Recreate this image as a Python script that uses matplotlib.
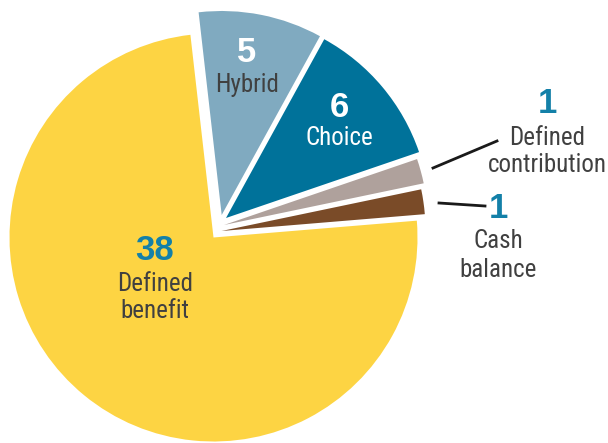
import matplotlib
matplotlib.use("Agg")
import matplotlib.pyplot as plt
from matplotlib import font_manager

# Data
categories = ["Defined benefit", "Cash balance", "Defined contribution", "Choice", "Hybrid"]
counts = [38, 1, 1, 6, 5]

# Colors per slice
colors = ["#FDD443", "#7A4B28", "#AFA19C", "#00729A", "#80AAC0"]
num_blue = "#1380A8"
text_grey = "#404040"

# pick a narrow font if one is around
fonts = font_manager.fontManager.ttflist
names = {f.name for f in fonts}
label_font, label_stretch, label_size = "DejaVu Sans", "normal", 15
if "Liberation Sans Narrow" in names:
    label_font, label_stretch, label_size = "Liberation Sans Narrow", "normal", 19
elif "Roboto Condensed" in names:
    label_font, label_stretch, label_size = "Roboto Condensed", "normal", 18
elif any(f.name == "DejaVu Sans" and "condensed" in str(f.stretch) for f in fonts):
    label_font, label_stretch, label_size = "DejaVu Sans", "condensed", 16.5

W, H = 608, 443
fig = plt.figure(figsize=(W / 100, H / 100), dpi=100)
ax = fig.add_axes([0, 0, 1, 1])

# pie drawn in pixel-like coordinates (y up)
cx, cy = 213.5, H - 237.5
wedges, _ = ax.pie(counts, colors=colors, startangle=96.5, counterclock=True,
                   radius=204, center=(cx, cy), wedgeprops=dict(linewidth=0))

# hand-pulled pieces: offset of each slice from the yellow one (px)
shifts = [(0, 0), (8, 6.5), (10.5, 12.5), (12.5, 19.5), (8.2, 22.5)]
for w, (dx, dy) in zip(wedges, shifts):
    w.set_center((cx + dx, cy + dy))

ax.set_xlim(0, W)
ax.set_ylim(0, H)
ax.set_aspect("equal")
ax.axis("off")


def num(x, y, s, color):
    ax.text(x, H - y, s, ha="center", va="baseline", fontsize=25, color=color,
            fontweight="bold", family="Liberation Sans")


def lab(x, y, s, color=text_grey):
    ax.text(x, H - y, s, ha="center", va="baseline", fontsize=label_size, color=color,
            family=label_font, fontstretch=label_stretch)


# Defined benefit
num(155, 260, str(counts[0]), num_blue)
lab(155, 291, "Defined")
lab(155, 318, "benefit")

# Hybrid
num(247, 62, str(counts[4]), "white")
lab(247, 92, "Hybrid")

# Choice
num(339, 117, str(counts[3]), "white")
lab(339, 145, "Choice", "white")

# Defined contribution
num(547, 113, str(counts[2]), num_blue)
lab(547, 145, "Defined")
lab(547, 172, "contribution")
ax.plot([433, 497], [H - 168, H - 141], color="#1a1a1a", lw=2)

# Cash balance
num(498, 218, str(counts[1]), num_blue)
lab(498, 248, "Cash")
lab(498, 277, "balance")
ax.plot([439, 485], [H - 203, H - 206], color="#1a1a1a", lw=2)

fig.savefig("out.png", dpi=100)
